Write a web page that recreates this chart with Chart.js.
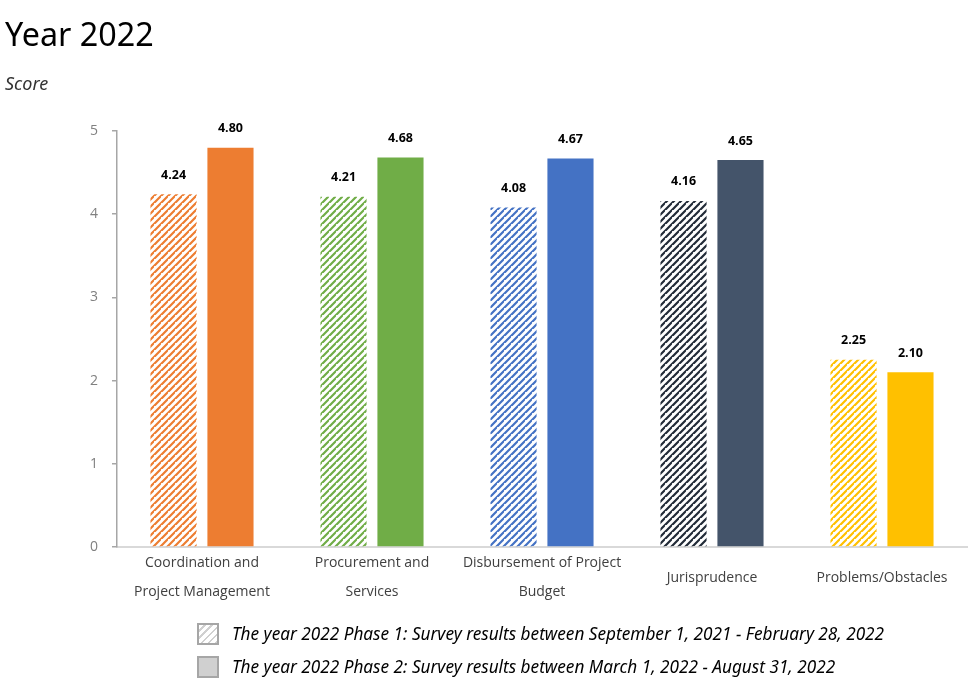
<!DOCTYPE html>
<html>
<head>
<meta charset="utf-8">
<script src="https://cdn.jsdelivr.net/npm/chart.js@4"></script>
<style>
  body { margin: 0; background: #fff; font-family: "Noto Sans", sans-serif; }
  #wrap { position: relative; width: 980px; height: 697px; }
  #title { position: absolute; left: 5px; top: 11px; font-size: 32.3px; color: #000; }
  #sub { position: absolute; left: 5px; top: 71px; font-size: 18px; font-style: italic; color: #333; }
  #legend { position: absolute; left: 197px; top: 617px; font-size: 17.2px; font-style: italic; color: #000; }
  .row { height: 33px; display: flex; align-items: center; }
  .box { width: 18px; height: 18px; border: 2px solid #a6a6a6; margin-right: 13px; box-sizing: content-box; }
  .hatch { background: repeating-linear-gradient(-45deg, #d0d0d0 0 2px, #fff 2px 5px); }
  .solid { background: #d0d0d0; }
  canvas { position: absolute; left: 0; top: 0; }
</style>
</head>
<body>
<div id="wrap">
  <canvas id="wykres" width="980" height="697"></canvas>
  <div id="title">Year 2022</div>
  <div id="sub">Score</div>
  <div id="legend">
    <div class="row"><span class="box hatch"></span>The year 2022 Phase 1: Survey results between September 1, 2021 - February 28, 2022</div>
    <div class="row"><span class="box solid"></span>The year 2022 Phase 2: Survey results between March 1, 2022 - August 31, 2022</div>
  </div>
</div>
<script>
var categories = [
    ['Coordination and', 'Project Management'],
    ['Procurement and', 'Services'],
    ['Disbursement of Project', 'Budget'],
    'Jurisprudence',
    'Problems/Obstacles'
];
var phase1 = [4.24, 4.21, 4.08, 4.16, 2.25];
var phase2 = [4.80, 4.68, 4.67, 4.65, 2.10];
var solidColors = ['#ED7D31', '#70AD47', '#4472C4', '#44546A', '#FFC000'];
var hatchColors = ['#ED7D31', '#70AD47', '#4472C4', '#222B38', '#FFC000'];

function makeHatch(color) {
    var c = document.createElement('canvas');
    c.width = 7;
    c.height = 7;
    var g = c.getContext('2d');
    g.strokeStyle = color;
    g.lineWidth = 2.2;
    g.beginPath();
    g.moveTo(-1, 8); g.lineTo(8, -1);
    g.moveTo(-4.5, 3.5); g.lineTo(3.5, -4.5);
    g.moveTo(3.5, 10.5); g.lineTo(10.5, 3.5);
    g.stroke();
    return g.createPattern(c, 'repeat');
}

var ctx = document.getElementById('wykres').getContext('2d');
var hatchPatterns = hatchColors.map(makeHatch);

// etykiety nad słupkami
var valueLabels = {
    id: 'valueLabels',
    afterDatasetsDraw: function (chart) {
        var c = chart.ctx;
        c.save();
        c.font = 'bold 12.5px "Open Sans", sans-serif';
        c.fillStyle = '#000';
        c.textAlign = 'center';
        c.textBaseline = 'middle';
        chart.data.datasets.forEach(function (ds, i) {
            chart.getDatasetMeta(i).data.forEach(function (bar, j) {
                c.fillText(ds.data[j].toFixed(2), bar.x, bar.y - 19);
            });
        });
        c.restore();
    }
};

new Chart(ctx, {
    type: 'bar',
    data: {
        labels: categories,
        datasets: [{
            label: 'Phase 1',
            data: phase1,
            backgroundColor: hatchPatterns,
            borderWidth: 0
        }, {
            label: 'Phase 2',
            data: phase2,
            backgroundColor: solidColors,
            borderWidth: 0
        }]
    },
    options: {
        responsive: false,
        animation: false,
        layout: { padding: { top: 131, right: 13, bottom: 50, left: 0 } },
        datasets: { bar: { categoryPercentage: 0.67, barPercentage: 0.81 } },
        plugins: {
            legend: { display: false },
            tooltip: { enabled: false }
        },
        scales: {
            x: {
                grid: { display: false },
                border: { color: '#d9d9d9', width: 2 },
                ticks: {
                    color: '#404040',
                    padding: -6,
                    maxRotation: 0,
                    // jednowierszowe etykiety wyśrodkowane między dwoma wierszami
                    font: function (c) {
                        var multi = Array.isArray(categories[c.index]);
                        return { family: '"Open Sans", sans-serif', size: 14, lineHeight: multi ? 2.05 : 4.15 };
                    }
                },
                afterFit: function (s) { s.height = 100; }
            },
            y: {
                min: 0,
                max: 5,
                ticks: {
                    stepSize: 1,
                    color: '#808080',
                    padding: 14,
                    font: { family: '"Open Sans", sans-serif', size: 14 }
                },
                grid: { drawOnChartArea: false, tickLength: 5, color: '#a6a6a6', lineWidth: 1.5 },
                border: { color: '#a6a6a6', width: 1.5 },
                afterFit: function (s) { s.width = 117; }
            }
        }
    },
    plugins: [valueLabels]
});
</script>
</body>
</html>
